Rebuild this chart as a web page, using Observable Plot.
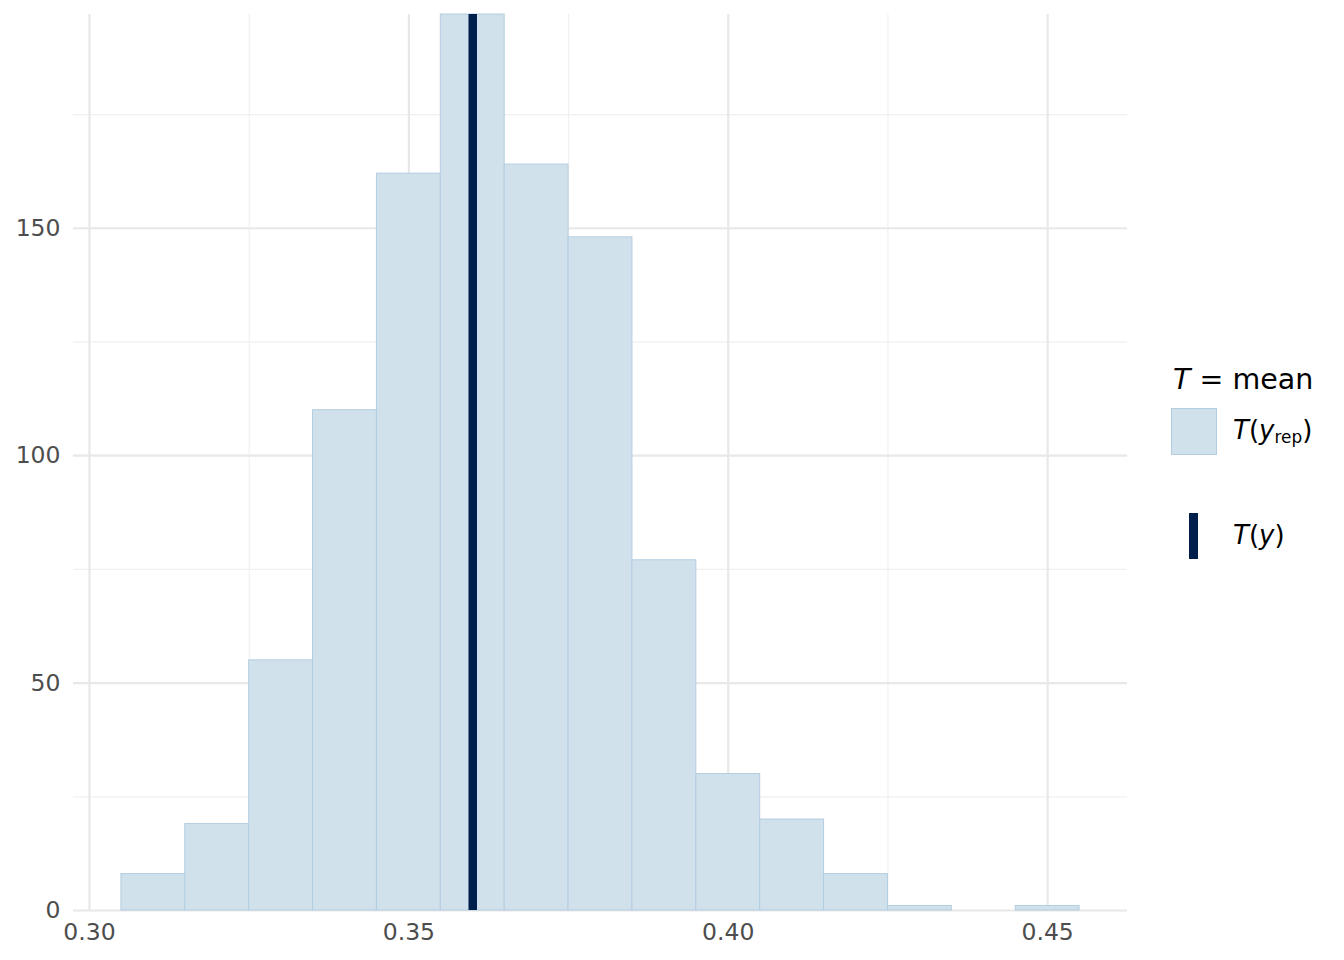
<!DOCTYPE html>
<html>
<head>
<meta charset="utf-8">
<script src="https://cdn.jsdelivr.net/npm/d3@7"></script>
<script src="https://cdn.jsdelivr.net/npm/@observablehq/plot@0.6"></script>
<style>
  html, body { margin: 0; padding: 0; background: #fff; }
  #wrap { position: relative; width: 1344px; height: 960px; font-family: "DejaVu Sans", sans-serif; }
  #legend { position: absolute; left: 0; top: 0; }
  .lg-title { position: absolute; left: 1173px; top: 363px; font-size: 28.5px; color: #000; white-space: nowrap; }
  .lg-lab { position: absolute; left: 1233px; font-size: 26px; color: #000; white-space: nowrap; }
  .sw-fill { position: absolute; left: 1171px; top: 408px; width: 44px; height: 45px; background: #d1e1ec; border: 1px solid #b3cde0; }
  .sw-line { position: absolute; left: 1189px; top: 513px; width: 9px; height: 46px; background: #011f4b; }
  sub { font-size: 0.65em; vertical-align: -0.25em; font-style: normal; }
</style>
</head>
<body>
<div id="wrap"></div>
<script>
// Histogram of T(y_rep) = mean, bins of width 0.01
const binStart = [0.305, 0.315, 0.325, 0.335, 0.345, 0.355, 0.365, 0.375, 0.385, 0.395, 0.405, 0.415, 0.425, 0.435, 0.445];
const binEnd   = [0.315, 0.325, 0.335, 0.345, 0.355, 0.365, 0.375, 0.385, 0.395, 0.405, 0.415, 0.425, 0.435, 0.445, 0.455];
const counts   = [8, 19, 55, 110, 162, 197, 164, 148, 77, 30, 20, 8, 1, 0, 1];
const observedT = [0.360];
const xMajor = [0.30, 0.35, 0.40, 0.45];
const xMinor = [0.325, 0.375, 0.425];
const yMajor = [0, 50, 100, 150];
const yMinor = [25, 75, 125, 175];

const bins = binStart.map((s, i) => ({x1: s, x2: binEnd[i], y: counts[i]}));

const chart = Plot.plot({
  width: 1344,
  height: 960,
  marginLeft: 73,
  marginRight: 217,
  marginTop: 14,
  marginBottom: 50,
  style: {fontFamily: "DejaVu Sans, sans-serif", background: "#fff"},
  x: {domain: [0.2975, 0.4625]},
  y: {domain: [0, 197]},
  marks: [
    Plot.gridX(xMinor, {stroke: "#f0f0f0", strokeOpacity: 1, strokeWidth: 1.2}),
    Plot.gridY(yMinor, {stroke: "#f0f0f0", strokeOpacity: 1, strokeWidth: 1.2}),
    Plot.gridX(xMajor, {stroke: "#e8e8e8", strokeOpacity: 1, strokeWidth: 2.2}),
    Plot.gridY(yMajor, {stroke: "#e8e8e8", strokeOpacity: 1, strokeWidth: 2.2}),
    Plot.rectY(bins, {x1: "x1", x2: "x2", y: "y", fill: "#d1e1ec", stroke: "#b3cde0", strokeWidth: 1}),
    Plot.ruleX(observedT, {stroke: "#011f4b", strokeWidth: 8.5}),
    Plot.axisX(xMajor, {tickSize: 0, tickPadding: 13, fontSize: 23.5, fill: "#4d4d4d", tickFormat: d3.format(".2f"), label: null}),
    Plot.axisY(yMajor, {tickSize: 0, tickPadding: 13, fontSize: 23.5, fill: "#4d4d4d", label: null})
  ]
});

const wrap = document.getElementById("wrap");
wrap.appendChild(chart);

const legend = document.createElement("div");
legend.id = "legend";
legend.innerHTML = `
  <div class="lg-title"><i>T</i> = mean</div>
  <div class="sw-fill"></div>
  <div class="lg-lab" style="top:415px"><i>T</i>(<i>y</i><sub>rep</sub>)</div>
  <div class="sw-line"></div>
  <div class="lg-lab" style="top:520px"><i>T</i>(<i>y</i>)</div>
`;
wrap.appendChild(legend);
</script>
</body>
</html>
